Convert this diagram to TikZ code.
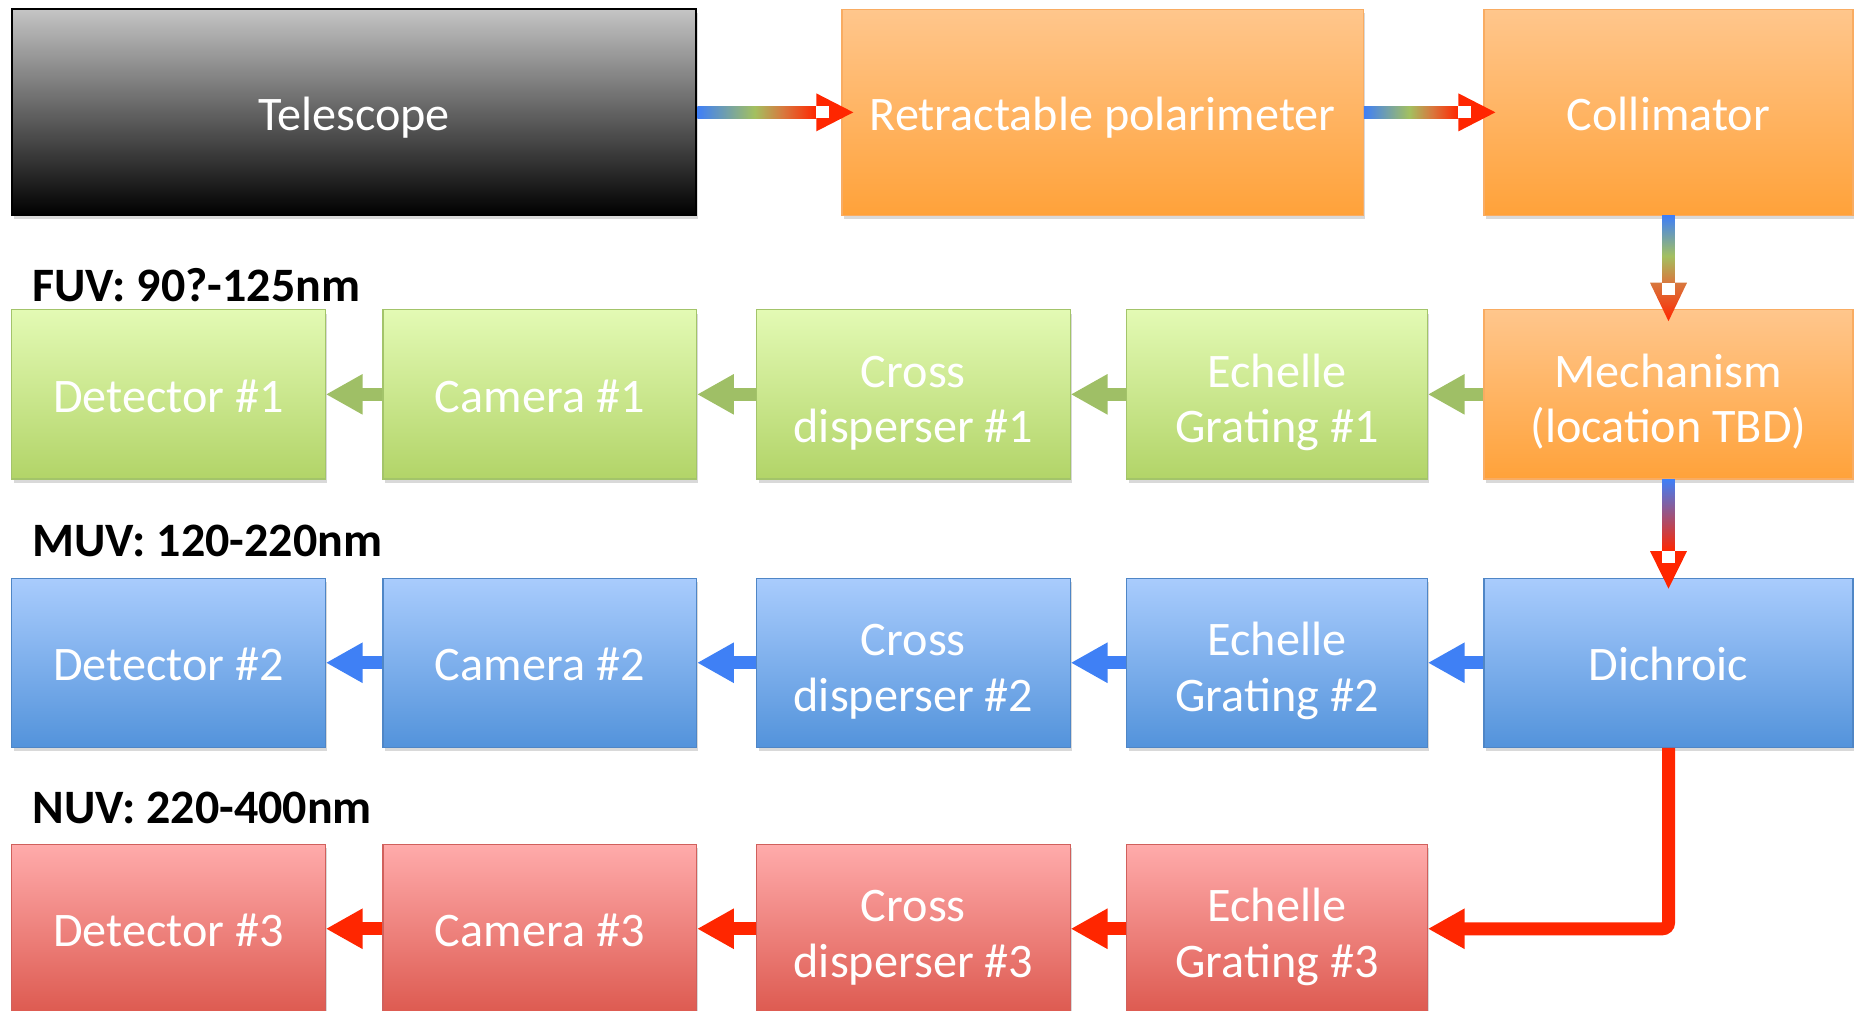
\documentclass[tikz,border=0pt]{standalone}
\usepackage{fontspec}
\setmainfont{Carlito}
\usetikzlibrary{arrows.meta,shadows,calc}

% box fills
\definecolor{telTop}{HTML}{C4C4C4}
\definecolor{orTop}{HTML}{FFC68C}
\definecolor{orBot}{HTML}{FFA23A}
\definecolor{orLine}{HTML}{F9AC62}
\definecolor{grTop}{HTML}{E3FAB4}
\definecolor{grBot}{HTML}{B2D468}
\definecolor{grLine}{HTML}{A3C46A}
\definecolor{blTop}{HTML}{A9CCFD}
\definecolor{blBot}{HTML}{5393DB}
\definecolor{blLine}{HTML}{4F86C6}
\definecolor{rdTop}{HTML}{FFABAB}
\definecolor{rdBot}{HTML}{DD5A50}
\definecolor{rdLine}{HTML}{D0605C}
% arrow colours
\definecolor{arrblue}{HTML}{3F7FF7}
\definecolor{arrgreen}{HTML}{A3C060}
\definecolor{arrorange}{HTML}{D8783E}
\definecolor{arrred}{HTML}{FF2600}
\definecolor{arrpurple}{HTML}{A04C9C}
\definecolor{flatgreen}{HTML}{9FBF66}
\definecolor{flatblue}{HTML}{3F80F5}

% light path shadings: blue -> green -> orange -> red
\pgfdeclarehorizontalshading{spectrumh}{100bp}{color(0bp)=(arrblue); color(25bp)=(arrblue); color(49bp)=(arrgreen); color(61bp)=(arrorange); color(75bp)=(arrred); color(100bp)=(arrred)}
\pgfdeclareverticalshading{spectrumv}{100bp}{color(0bp)=(arrorange); color(25bp)=(arrorange); color(45bp)=(arrgreen); color(75bp)=(arrblue); color(100bp)=(arrblue)}

\tikzset{
  box/.style={draw, line width=0.6pt, text=white, align=center, inner sep=0pt,
    font=\fontsize{24.1}{27.8}\selectfont,
    % fixed strut so every label sits at the same height in its box
    execute at begin node={\rule{0pt}{25pt}},
    execute at end node={\rule[-7pt]{0pt}{0pt}},
    drop shadow={opacity=0.3, shadow xshift=1pt, shadow yshift=-2pt}},
  twoline/.style={execute at begin node={\rule{0pt}{55.4pt}}},
  telbox/.style={box, top color=telTop, bottom color=black, draw=black, line width=1pt},
  orbox/.style={box, top color=orTop, bottom color=orBot, draw=orLine},
  grbox/.style={box, top color=grTop, bottom color=grBot, draw=grLine},
  blbox/.style={box, top color=blTop, bottom color=blBot, draw=blLine},
  rdbox/.style={box, top color=rdTop, bottom color=rdBot, draw=rdLine},
  wide/.style={minimum width=156.7pt, minimum height=84.55pt},
  narrow/.style={minimum width=150.2pt, minimum height=84.55pt},
  side/.style={minimum width=184.5pt, minimum height=84.55pt},
  flow/.style={line width=6.5pt, -{Triangle[length=18.4pt, width=18.9pt]}},
  garrow/.style={flow, draw=flatgreen},
  barrow/.style={flow, draw=flatblue},
  rarrow/.style={flow, draw=arrred},
  lab/.style={font=\bfseries\fontsize{24}{27}\selectfont, inner sep=0pt, anchor=base west}
}

\begin{document}
\begin{tikzpicture}[x=0.5pt, y=-0.5pt]
\useasboundingbox (0,0) rectangle (1854,1011);
\clip (0,0) rectangle (1854,1011);

% top row
\node[telbox, minimum width=342.3pt, minimum height=102.85pt] (tel) at (354.1,112.35) {Telescope};
\node[orbox, minimum width=260.7pt, minimum height=102.85pt] (pol) at (1102.6,112.35) {Retractable polarimeter};
\node[orbox, minimum width=184.5pt, minimum height=102.85pt] (col) at (1668.5,112.35) {Collimator};

% FUV channel
\node[orbox, side, twoline] (mech) at (1668.5,394.35) {Mechanism\\(location TBD)};
\node[grbox, narrow, twoline] (ech1) at (1277,394.35) {Echelle\\Grating \#1};
\node[grbox, wide, twoline] (cross1) at (913.4,394.35) {Cross\\disperser \#1};
\node[grbox, wide] (cam1) at (539.75,394.35) {Camera \#1};
\node[grbox, wide] (det1) at (168.5,394.35) {Detector \#1};

% MUV channel
\node[blbox, side] (dich) at (1668.5,662.75) {Dichroic};
\node[blbox, narrow, twoline] (ech2) at (1277,662.75) {Echelle\\Grating \#2};
\node[blbox, wide, twoline] (cross2) at (913.4,662.75) {Cross\\disperser \#2};
\node[blbox, wide] (cam2) at (539.75,662.75) {Camera \#2};
\node[blbox, wide] (det2) at (168.5,662.75) {Detector \#2};

% NUV channel
\node[rdbox, narrow, twoline] (ech3) at (1277,928.75) {Echelle\\Grating \#3};
\node[rdbox, wide, twoline] (cross3) at (913.4,928.75) {Cross\\disperser \#3};
\node[rdbox, wide] (cam3) at (539.75,928.75) {Camera \#3};
\node[rdbox, wide] (det3) at (168.5,928.75) {Detector \#3};

% band labels
\node[lab] (fuv) at (32,301) {FUV: 90?-125nm};
\node[lab] (muv) at (32,556) {MUV: 120-220nm};
\node[lab] (nuv) at (32,823) {NUV: 220-400nm};

% telescope -> polarimeter
\shade[shading=spectrumh] ($(tel.east)+(0,-6)$) rectangle ($(pol.west)+(-25,6)$);
\fill[arrred] ($(pol.west)+(-25,-19)$) -- ($(pol.west)+(12,0)$) -- ($(pol.west)+(-25,19)$) -- cycle;
\fill[white] ($(pol.west)+(-25,-6)$) rectangle ($(pol.west)+(-12,6)$);

% polarimeter -> collimator
\shade[shading=spectrumh] ($(pol.east)+(0,-6)$) rectangle ($(col.west)+(-25,6)$);
\fill[arrred] ($(col.west)+(-25,-19)$) -- ($(col.west)+(12,0)$) -- ($(col.west)+(-25,19)$) -- cycle;
\fill[white] ($(col.west)+(-25,-6)$) rectangle ($(col.west)+(-12,6)$);

% collimator -> mechanism
\shade[shading=spectrumv] ($(col.south)+(-6.3,0)$) rectangle ($(mech.north)+(6.3,-26.5)$);
\shade[top color=arrorange, bottom color=arrred] ($(mech.north)+(-18.5,-26.5)$) -- ($(mech.north)+(0,12)$) -- ($(mech.north)+(18.5,-26.5)$) -- cycle;
\fill[white] ($(mech.north)+(-6.3,-26.5)$) rectangle ($(mech.north)+(6.3,-14.5)$);

% mechanism -> dichroic
\shade[top color=arrblue, middle color=arrpurple, bottom color=arrred] ($(mech.south)+(-6.3,0)$) rectangle ($(dich.north)+(6.3,-26.5)$);
\fill[arrred] ($(dich.north)+(-18.5,-26.5)$) -- ($(dich.north)+(0,11)$) -- ($(dich.north)+(18.5,-26.5)$) -- cycle;
\fill[white] ($(dich.north)+(-6.3,-26.5)$) rectangle ($(dich.north)+(6.3,-14.5)$);

% FUV chain
\draw[garrow] (mech.west) -- (ech1.east);
\draw[garrow] (ech1.west) -- (cross1.east);
\draw[garrow] (cross1.west) -- (cam1.east);
\draw[garrow] (cam1.west) -- (det1.east);

% MUV chain
\draw[barrow] (dich.west) -- (ech2.east);
\draw[barrow] (ech2.west) -- (cross2.east);
\draw[barrow] (cross2.west) -- (cam2.east);
\draw[barrow] (cam2.west) -- (det2.east);

% NUV chain
\draw[rarrow, rounded corners=3pt] (dich.south) |- (ech3.east);
\draw[rarrow] (ech3.west) -- (cross3.east);
\draw[rarrow] (cross3.west) -- (cam3.east);
\draw[rarrow] (cam3.west) -- (det3.east);
\end{tikzpicture}
\end{document}
